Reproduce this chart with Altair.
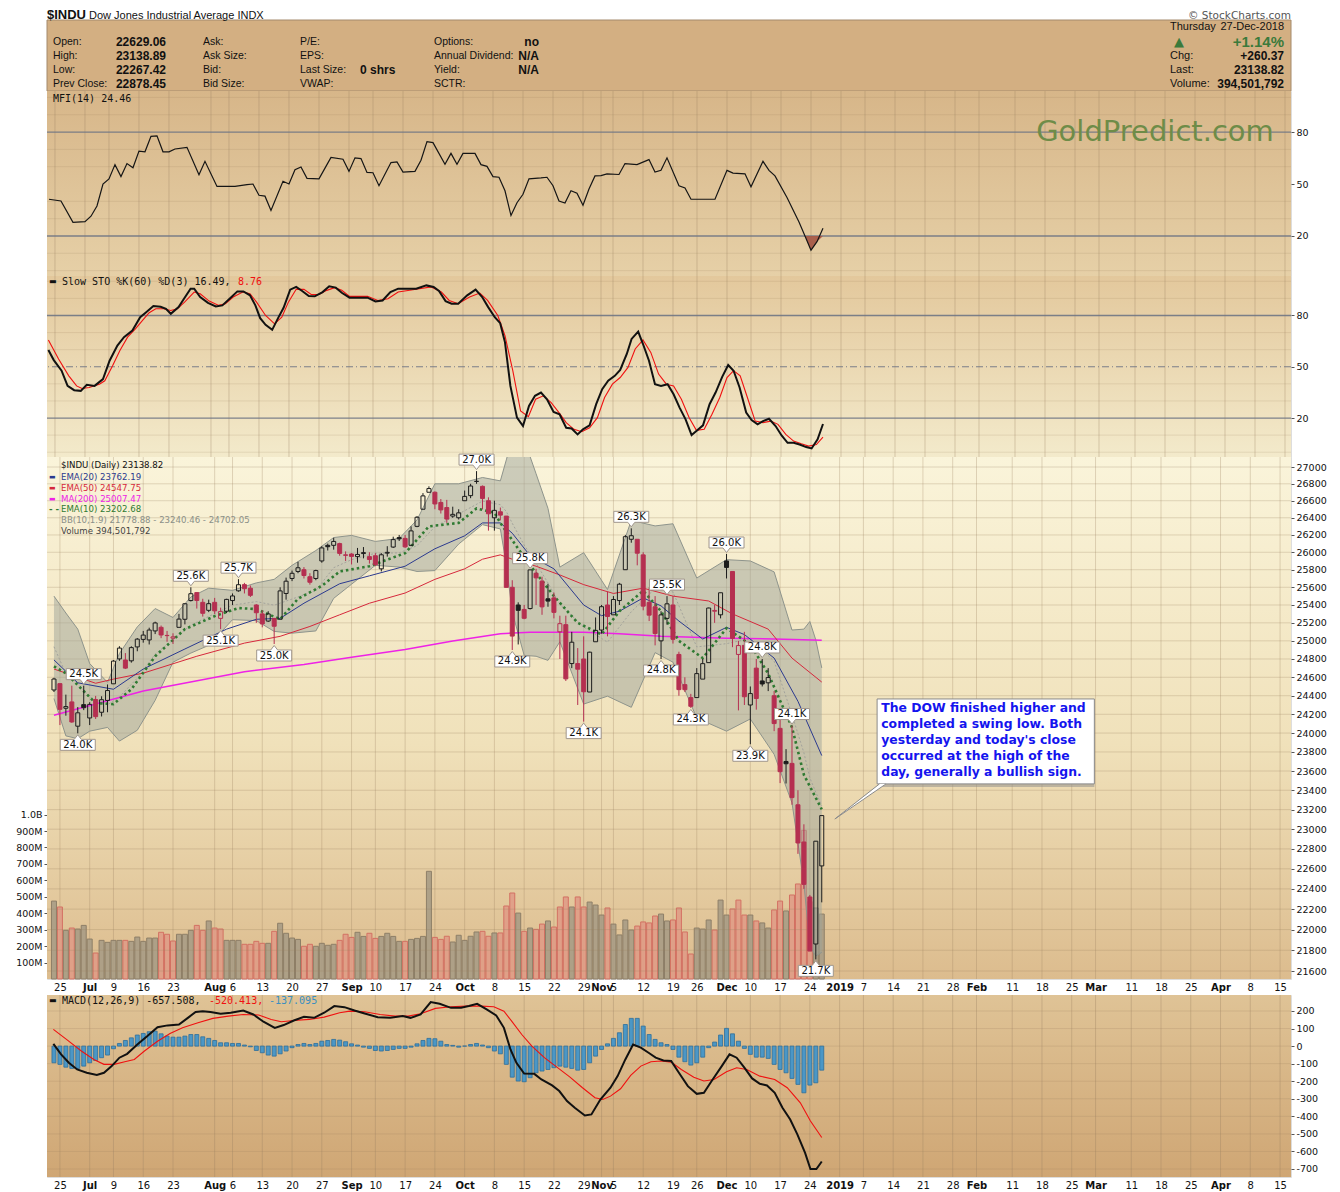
import altair as alt
import pandas as pd

# ------------------------------------------------------------------ data
# trading-day index 0 = 22-Jun-2018 ... 129 = 27-Dec-2018 (future weekdays continue the index)
OPEN = [24462, 24531, 24265, 24333, 24073, 24304, 24161, 24359, 24222, 24349,
        24529, 24801, 24789, 24780, 24933, 25016, 25010, 25110, 25150, 25060,
        25030, 25150, 25240, 25450, 25540, 25430, 25340, 25430, 25250, 25330,
        25450, 25560, 25630, 25590, 25400, 25300, 25220, 25250, 25240, 25530,
        25700, 25780, 25800, 25720, 25700, 25900, 26080, 26080, 26100, 25970,
        25980, 25950, 25985, 25950, 25960, 25810, 25990, 26060, 26170, 26160,
        26080, 26300, 26500, 26700, 26700, 26580, 26520, 26420, 26400, 26600,
        26660, 26830, 26770, 26600, 26400, 26470, 26420, 25600, 25400, 25350,
        25360, 25760, 25670, 25470, 25480, 25100, 25180, 24750, 24750, 24800,
        24440, 24990, 25120, 25400, 25290, 25450, 25800, 26150, 26150, 25970,
        25430, 25380, 25000, 25250, 25400, 24850, 24520, 24380, 24380, 24580,
        24760, 25330, 25290, 25900, 25780, 24850, 24950, 24300, 24700, 24560,
        24540, 24400, 24050, 23700, 23680, 23250, 22870, 22320, 21860, 22629]
HIGH = [24595, 24531, 24412, 24509, 24278, 24509, 24330, 24398, 24394, 24522,
        24788, 24941, 24865, 24940, 25031, 25110, 25146, 25213, 25170, 25110,
        25084, 25300, 25420, 25600, 25546, 25470, 25460, 25480, 25370, 25470,
        25530, 25692, 25650, 25620, 25410, 25340, 25330, 25250, 25600, 25710,
        25790, 25890, 25830, 25760, 25800, 26070, 26100, 26167, 26110, 26010,
        25990, 26050, 26060, 26000, 25990, 25990, 26070, 26180, 26200, 26200,
        26300, 26420, 26690, 26770, 26710, 26620, 26610, 26530, 26500, 26720,
        26800, 26951, 26780, 26640, 26600, 26520, 26420, 25680, 25430, 25400,
        25800, 25810, 25720, 25640, 25540, 25280, 25280, 25100, 24920, 25050,
        24880, 25260, 25400, 25550, 25500, 25650, 26200, 26277, 26150, 26000,
        25600, 25500, 25330, 25500, 25500, 24880, 24600, 24420, 24700, 24800,
        25370, 25400, 25540, 25980, 25780, 25000, 25100, 24500, 24800, 24800,
        24700, 24450, 24240, 23830, 24080, 23400, 23050, 22340, 22880, 23139]
LOW = [24440, 24085, 24185, 24109, 23997, 24245, 24085, 24150, 24177, 24222,
       24529, 24780, 24690, 24760, 24885, 24980, 24960, 25075, 25030, 24990,
       24965, 25150, 25183, 25440, 25360, 25270, 25320, 25300, 25130, 25310,
       25400, 25550, 25530, 25490, 25200, 25150, 25210, 24965, 25240, 25460,
       25670, 25760, 25700, 25630, 25680, 25880, 26020, 26030, 25960, 25900,
       25860, 25880, 25930, 25870, 25840, 25780, 25950, 26050, 26130, 26050,
       26070, 26290, 26500, 26700, 26500, 26450, 26340, 26400, 26380, 26600,
       26630, 26800, 26500, 26250, 26250, 26370, 25598, 24899, 24960, 25240,
       25350, 25400, 25290, 25380, 25250, 24800, 24560, 24700, 24300, 24122,
       24440, 24990, 25080, 25050, 25290, 25400, 25800, 26110, 25850, 25340,
       25220, 24950, 24800, 25180, 24970, 24400, 24440, 24268, 24380, 24580,
       24760, 25200, 25250, 25700, 24930, 24242, 24300, 23881, 24250, 24500,
       24450, 24020, 23474, 23470, 23250, 22750, 22400, 21792, 21712, 22267]
CLOSE = [24581, 24253, 24283, 24118, 24216, 24271, 24307, 24175, 24357, 24456,
         24777, 24920, 24700, 24925, 25019, 25064, 25120, 25199, 25065, 25058,
         25044, 25242, 25414, 25527, 25451, 25307, 25415, 25334, 25326, 25463,
         25502, 25629, 25584, 25509, 25313, 25188, 25300, 25162, 25559, 25669,
         25759, 25822, 25734, 25657, 25790, 26050, 26064, 26125, 25987, 25965,
         25952, 25975, 25996, 25917, 25857, 25971, 25999, 26146, 26155, 26062,
         26247, 26406, 26657, 26744, 26562, 26492, 26385, 26440, 26458, 26651,
         26774, 26828, 26627, 26447, 26487, 26431, 25599, 25053, 25340, 25251,
         25798, 25707, 25379, 25444, 25317, 25191, 24583, 24985, 24688, 24443,
         24875, 25116, 25381, 25271, 25462, 25635, 26180, 26191, 25989, 25387,
         25286, 25081, 25289, 25413, 25017, 24466, 24465, 24286, 24640, 24749,
         25366, 25339, 25538, 25826, 25027, 24948, 24389, 24423, 24370, 24527,
         24597, 24101, 23593, 23676, 23324, 22860, 22445, 21792, 22878, 23139]
VOLUME_M = [474, 438, 296, 310, 304, 326, 243, 158, 235, 223,
            235, 235, 235, 229, 255, 229, 249, 249, 284, 272,
            231, 272, 272, 296, 326, 296, 353, 310, 304, 235,
            235, 235, 211, 211, 229, 217, 217, 290, 339, 278,
            249, 241, 199, 211, 199, 217, 205, 211, 235, 272,
            253, 284, 259, 278, 247, 259, 278, 259, 229, 229,
            241, 247, 259, 655, 253, 241, 260, 225, 266, 235,
            260, 286, 290, 260, 280, 280, 444, 523, 401, 290,
            310, 302, 334, 353, 316, 438, 499, 438, 499, 438,
            468, 450, 389, 432, 334, 268, 359, 298, 322, 347,
            341, 383, 395, 353, 359, 432, 286, 152, 310, 304,
            359, 298, 480, 389, 426, 480, 389, 389, 353, 341,
            310, 420, 474, 414, 511, 578, 904, 470, 432, 395]

EMA20_I = [0, 4, 10, 15, 22, 29, 34, 38, 42, 48, 53, 59, 64, 69, 72, 75, 77, 80, 84, 89,
           92, 95, 99, 102, 105, 109, 113, 116, 121, 125, 129]
EMA20_V = [24790, 24540, 24470, 24690, 24910, 25130, 25240, 25250, 25420, 25640, 25730, 25840,
           26040, 26190, 26340, 26340, 26220, 25960, 25810, 25400, 25280, 25330, 25480, 25390,
           25220, 25020, 25150, 25070, 24810, 24340, 23762]
EMA50_I = [0, 7, 10, 15, 24, 32, 38, 43, 48, 53, 59, 64, 69, 72, 75, 77, 81, 85, 89, 94,
           99, 104, 110, 114, 120, 124, 129]
EMA50_V = [24690, 24535, 24580, 24645, 24830, 24975, 25050, 25160, 25290, 25420, 25535, 25690,
           25810, 25920, 25970, 25920, 25840, 25740, 25630, 25530, 25590, 25500, 25445, 25300,
           25130, 24810, 24548]
MA200_I = [0, 15, 32, 42, 50, 59, 67, 75, 80, 89, 95, 102, 113, 121, 129]
MA200_V = [24190, 24450, 24660, 24740, 24820, 24905, 24998, 25080, 25095, 25095, 25080, 25050,
           25030, 25020, 25007]
EMA10_I = [0, 2, 7, 10, 13, 17, 22, 27, 31, 34, 38, 41, 45, 48, 53, 59, 63, 68, 71, 74, 75,
           78, 81, 84, 88, 92, 95, 99, 102, 105, 109, 113, 117, 120, 124, 126, 129]
EMA10_V = [24720, 24645, 24320, 24310, 24470, 24830, 25130, 25275, 25365, 25355, 25240, 25470,
           25615, 25780, 25840, 25990, 26300, 26340, 26510, 26460, 26340, 26040, 25760, 25500,
           25200, 25070, 25330, 25560, 25330, 25000, 24810, 25140, 24960, 24640, 24060, 23560,
           23203]
BB_I = [0, 2, 4, 6, 9, 11, 14, 17, 20, 23, 26, 30, 34, 37, 40, 44, 47, 50, 54, 58, 61, 64, 68,
        72, 75, 76, 77, 79, 81, 83, 85, 89, 93, 97, 101, 104, 108, 113, 117, 121, 124, 126, 127,
        128, 129]
BB_LO = [24370, 23970, 23940, 24020, 24060, 23915, 24030, 24350, 24765, 24865, 24950, 25235,
         25225, 25105, 25085, 25110, 25475, 25635, 25850, 25830, 25780, 25790, 26095, 26320,
         26270, 25860, 25320, 24840, 24830, 24785, 24990, 24310, 24395, 24275, 24870, 24765,
         24160, 24020, 24150, 23775, 23270, 22455, 21840, 21745, 21779]
BB_MID = [24935, 24640, 24535, 24385, 24302, 24388, 24591, 24854, 25011, 25175, 25272, 25398,
          25438, 25398, 25467, 25564, 25823, 25915, 25989, 25993, 26076, 26295, 26445, 26596,
          26553, 26474, 26336, 26084, 25874, 25649, 25408, 25154, 24985, 25324, 25586, 25547,
          24933, 24969, 25025, 24775, 24195, 23792, 23529, 23379, 23240]
BB_HI = [25500, 25310, 25130, 24750, 24545, 24860, 25155, 25360, 25260, 25490, 25590, 25565,
         25650, 25690, 25850, 26020, 26170, 26195, 26125, 26160, 26375, 26800, 26800, 26875,
         26835, 27085, 27350, 27330, 26920, 26510, 25830, 25995, 25575, 26370, 26305, 26330,
         25705, 25915, 25900, 25775, 25120, 25130, 25215, 25010, 24702]

MFI_I = [0, 2, 4, 6, 7, 8, 9, 10, 11, 12, 13, 14, 15, 16, 17, 18, 19, 20, 21, 23, 25, 26, 28,
         31, 33, 34, 35, 36, 37, 39, 40, 41, 42, 43, 45, 46, 47, 49, 50, 51, 52, 53, 54, 55, 57,
         58, 59, 61, 62, 63, 64, 66, 67, 68, 69, 71, 72, 73, 74, 75, 76, 77, 78, 79, 80, 82, 83,
         84, 85, 86, 87, 88, 89, 90, 91, 92, 93, 95, 96, 98, 100, 101, 102, 103, 105, 106, 107,
         111, 113, 114, 116, 117, 119, 120, 121, 123, 125, 126, 127, 128, 129]
MFI_V = [41.2, 40.2, 27.9, 28.3, 31.4, 37.3, 50.0, 52.9, 61.2, 54.3, 61.8, 59.4, 69.0, 68.6,
         77.5, 77.8, 68.6, 68.6, 70.2, 71.2, 55.3, 63.1, 48.6, 48.6, 49.6, 50.0, 43.5, 43.0,
         34.7, 51.6, 50.0, 58.2, 59.8, 53.3, 53.0, 59.2, 65.3, 64.3, 57.3, 65.1, 64.7, 56.7,
         56.5, 49.0, 62.4, 62.8, 56.9, 57.3, 63.7, 74.5, 73.9, 61.4, 67.7, 61.4, 67.7, 67.7,
         61.2, 60.2, 54.3, 53.9, 46.1, 31.8, 39.2, 44.1, 53.0, 53.5, 53.9, 49.0, 40.2, 39.0,
         46.1, 44.7, 37.7, 47.1, 54.7, 54.9, 55.9, 55.5, 61.8, 61.2, 64.1, 56.9, 57.9, 65.1,
         49.0, 47.7, 41.2, 41.2, 57.9, 56.3, 55.9, 48.4, 63.1, 57.9, 54.7, 42.2, 28.1, 20.0,
         11.8, 16.7, 24.46]

STO_K_I = [-0.1, 0.8, 2.1, 3.1, 4.2, 5.3, 6.3, 7.6, 9.0, 10.1, 11.4, 12.5, 13.9, 15.2, 16.1,
           17.4, 18.6, 19.5, 20.3, 21.6, 22.5, 23.6, 24.2, 25.2, 26.5, 27.8, 28.9, 30.1, 31.4,
           32.4, 33.5, 34.4, 35.2, 36.1, 37.2, 38.2, 39.1, 40.2, 41.2, 42.2, 43.3, 44.3, 45.6,
           46.7, 47.8, 48.8, 50.1, 53.1, 54.4, 55.6, 56.9, 58.2, 61.2, 62.9, 64.1, 65.0, 66.1,
           67.1, 68.2, 69.7, 71.1, 72.2, 73.2, 74.3, 75.2, 76.0, 76.9, 78.0, 79.0, 80.0, 81.0,
           82.0, 83.0, 84.1, 85.1, 86.2, 87.1, 88.1, 89.0, 90.1, 91.2, 92.2, 93.2, 94.3, 95.2,
           96.3, 97.1, 98.2, 99.0, 100.0, 101.0, 102.0, 103.1, 104.1, 105.1, 106.1, 107.1, 107.9,
           109.0, 110.1, 111.1, 112.2, 113.2, 114.1, 115.1, 116.2, 117.1, 118.1, 119.0, 120.0,
           121.1, 122.1, 123.1, 124.1, 125.1, 126.2, 127.1, 128.1, 129.0]
STO_K_V = [59.8, 53.9, 47.7, 38.8, 36.3, 35.9, 39.4, 38.8, 42.8, 53.5, 62.4, 67.3, 71.2, 79.0,
           81.6, 85.5, 85.1, 83.9, 81.0, 84.9, 89.8, 95.7, 95.7, 90.8, 87.4, 85.3, 85.9, 89.8,
           94.1, 94.1, 91.8, 85.9, 78.4, 74.5, 71.6, 78.6, 84.5, 95.1, 96.7, 94.3, 91.4, 91.2,
           93.7, 97.1, 96.3, 93.3, 90.4, 90.4, 88.2, 88.8, 93.7, 95.7, 95.7, 97.6, 96.7, 94.3,
           88.4, 86.9, 86.9, 91.8, 95.1, 90.8, 84.9, 79.0, 75.5, 64.3, 38.8, 20.2, 15.3, 27.1,
           33.0, 34.9, 31.0, 23.6, 22.2, 14.3, 13.9, 10.4, 13.4, 15.7, 28.1, 36.9, 41.8, 44.7,
           48.2, 57.5, 66.3, 70.6, 63.3, 53.5, 39.8, 38.8, 39.8, 33.9, 26.1, 19.2, 10.0, 12.4,
           15.7, 28.1, 34.9, 44.1, 51.0, 47.7, 37.9, 23.2, 18.8, 16.3, 18.2, 19.6, 15.3, 9.8,
           5.5, 5.5, 4.5, 3.0, 2.2, 7.5, 16.49]
STO_D_I = [-0.1, 1.6, 3.3, 4.6, 5.5, 6.7, 8.4, 9.3, 10.6, 11.8, 13.1, 14.4, 15.7, 16.7, 17.8,
           19.1, 20.3, 21.4, 22.6, 24.2, 25.2, 26.7, 28.3, 29.4, 30.7, 32.3, 33.5, 34.6, 36.1,
           37.6, 38.8, 39.9, 41.2, 42.5, 43.7, 45.0, 46.3, 47.6, 48.8, 50.1, 53.1, 54.8, 56.5,
           58.2, 61.2, 63.7, 65.4, 66.7, 68.2, 70.1, 71.8, 73.1, 74.8, 76.0, 77.3, 78.6, 79.9,
           81.1, 82.4, 83.7, 85.0, 86.2, 87.5, 88.8, 90.1, 91.4, 92.6, 93.9, 95.2, 96.5, 97.7,
           99.0, 100.3, 101.6, 102.9, 104.1, 105.4, 106.7, 107.9, 109.2, 110.5, 111.8, 113.0,
           114.1, 115.2, 116.4, 117.7, 119.0, 120.3, 121.5, 122.8, 124.1, 125.4, 126.6, 127.9,
           129.0]
STO_D_V = [65.7, 54.5, 44.7, 38.8, 37.3, 37.9, 39.8, 41.8, 50.6, 59.4, 67.3, 72.2, 77.6, 81.6,
           83.9, 83.9, 82.9, 83.9, 87.8, 93.7, 92.7, 88.4, 85.9, 86.9, 90.8, 93.7, 92.7, 87.8,
           80.0, 75.1, 79.0, 87.8, 95.3, 95.3, 92.3, 92.3, 94.7, 96.3, 94.7, 91.2, 91.2, 88.8,
           89.8, 93.7, 95.3, 96.7, 93.7, 88.8, 86.9, 90.8, 93.1, 88.8, 80.0, 68.2, 47.7, 24.1,
           20.8, 31.0, 33.0, 29.0, 23.2, 17.3, 13.4, 12.0, 14.3, 20.2, 32.0, 39.8, 43.7, 49.6,
           60.4, 65.7, 58.4, 45.7, 39.8, 38.8, 31.0, 20.2, 12.8, 13.4, 22.2, 32.0, 43.7, 47.7,
           44.7, 32.0, 18.2, 17.3, 18.2, 16.3, 10.4, 6.5, 4.9, 3.6, 4.5, 8.76]

MACD_I = [-0.1, 1.2, 2.5, 3.9, 5.5, 7.2, 8.4, 9.7, 11.0, 12.3, 14.0, 15.7, 17.4, 19.1, 21.0,
          22.5, 23.8, 25.0, 26.3, 28.0, 29.7, 31.8, 33.5, 35.2, 37.1, 38.6, 40.3, 42.0, 43.7,
          45.4, 47.1, 48.8, 50.5, 52.2, 54.4, 56.5, 58.6, 59.9, 61.6, 63.3, 64.8, 66.7, 68.4,
          69.7, 71.1, 72.7, 74.3, 75.6, 76.7, 77.7, 79.0, 80.7, 81.9, 83.7, 84.9, 86.2, 87.5,
          89.2, 90.3, 91.8, 93.5, 94.7, 96.0, 97.3, 98.6, 99.9, 101.1, 102.4, 103.7, 105.0,
          106.5, 108.0, 109.2, 110.5, 112.2, 113.5, 114.7, 116.0, 117.3, 118.6, 119.8, 121.1,
          122.4, 123.7, 124.9, 126.2, 127.1, 128.1, 129.0]
MACD_V = [13, -47, -95, -133, -152, -165, -152, -114, -66, -44, 9, 57, 108, 118, 123, 161, 194,
          199, 194, 184, 190, 203, 180, 139, 104, 120, 146, 167, 161, 190, 228, 222, 203, 186,
          165, 161, 171, 161, 180, 251, 241, 218, 218, 228, 241, 209, 175, 104, -19, -95, -156,
          -158, -190, -224, -256, -313, -351, -395, -389, -304, -237, -171, -76, 9, -9, -38, -66,
          -82, -85, -152, -228, -272, -266, -199, -114, -47, -66, -123, -184, -215, -224, -266,
          -351, -418, -503, -608, -700, -700, -657.5]
SIG_I = [-0.1, 2.1, 4.6, 6.7, 8.4, 10.1, 11.9, 13.5, 15.2, 17.4, 19.5, 21.6, 24.2, 26.7, 29.3,
         31.8, 34.4, 36.5, 38.2, 40.3, 42.9, 45.4, 48.0, 49.7, 52.2, 54.8, 57.3, 59.5, 61.6,
         64.1, 66.7, 69.2, 71.8, 73.9, 75.6, 76.9, 78.6, 80.3, 82.4, 84.5, 86.7, 88.8, 90.9,
         92.2, 93.5, 95.2, 96.9, 98.6, 100.3, 102.0, 103.7, 105.4, 107.5, 109.2, 110.9, 113.0,
         114.7, 116.4, 118.6, 121.1, 123.2, 125.4, 127.1, 129.0]
SIG_V = [95, 38, -28, -76, -104, -104, -89, -76, -28, 28, 72, 104, 133, 158, 171, 180, 177, 152,
         139, 146, 152, 165, 190, 199, 196, 180, 171, 171, 184, 215, 224, 228, 228, 224, 199, 142,
         66, 0, -66, -120, -177, -237, -294, -304, -285, -243, -167, -114, -89, -85, -91, -133,
         -177, -199, -190, -146, -123, -133, -171, -190, -237, -323, -427, -520.4]
HIST = [-95, -104, -120, -127, -127, -114, -95, -82, -66, -51,
        -15, 15, 32, 47, 63, 72, 82, 85, 70, 57,
        51, 51, 57, 66, 66, 53, 44, 32, 19, 19,
        15, 15, 6, -4, -25, -38, -51, -57, -44, -28,
        -9, 9, 15, 9, 15, 28, 32, 38, 34, 25,
        13, 6, -6, -13, -25, -28, -25, -19, -13, -13,
        -6, 13, 32, 44, 42, 28, 9, 4, -6, 0,
        9, 15, 6, -9, -28, -44, -104, -177, -199, -203,
        -180, -152, -142, -133, -123, -114, -120, -127, -137, -133,
        -95, -57, -19, 13, 44, 76, 123, 158, 158, 114,
        66, 38, 19, 9, -19, -63, -89, -108, -95, -63,
        -9, 23, 63, 101, 70, 28, -13, -47, -63, -63,
        -70, -104, -133, -152, -184, -218, -266, -222, -209, -137]

LBL_I = [4, 5, 23, 28, 31, 37, 71, 77, 80, 89, 97, 102, 103, 107, 113, 117, 119, 124, 128]
LBL_T = ["24.0K", "24.5K", "25.6K", "25.1K", "25.7K", "25.0K", "27.0K", "24.9K", "25.8K", "24.1K",
         "26.3K", "24.8K", "25.5K", "24.3K", "26.0K", "23.9K", "24.8K", "24.1K", "21.7K"]
LBL_ABOVE = [False, True, True, False, True, False, True, False, True, False,
             True, False, True, False, True, False, True, True, False]

TICK_IDX = [1, 6, 10, 15, 20, 27, 30, 35, 40, 45, 50, 54, 59, 64, 69, 74, 79, 84, 89, 92, 94,
            99, 104, 108, 113, 117, 122, 127, 132, 136, 141, 146, 151, 155, 161, 166, 171, 175,
            181, 186, 191, 196, 201, 206]
TICK_LBL = ["25", "Jul", "9", "16", "23", "Aug", "6", "13", "20", "27", "Sep", "10", "17", "24",
            "Oct", "8", "15", "22", "29", "Nov", "5", "12", "19", "26", "Dec", "10", "17", "24",
            "2019", "7", "14", "21", "28", "Feb", "11", "18", "25", "Mar", "11", "18", "25", "Apr",
            "8", "15"]
BOLD_IDX = [6, 27, 50, 69, 92, 113, 132, 155, 175, 196]

NOTE_LINES = ["The DOW finished higher and", "completed a swing low. Both",
              "yesterday and today's close", "occurred at the high of the",
              "day, generally a bullish sign."]

for a, b in [(OPEN, CLOSE), (HIGH, CLOSE), (LOW, CLOSE), (VOLUME_M, CLOSE), (HIST, CLOSE),
             (EMA20_I, EMA20_V), (EMA50_I, EMA50_V), (MA200_I, MA200_V), (EMA10_I, EMA10_V),
             (BB_I, BB_LO), (BB_I, BB_MID), (BB_I, BB_HI), (MFI_I, MFI_V), (STO_K_I, STO_K_V),
             (STO_D_I, STO_D_V), (MACD_I, MACD_V), (SIG_I, SIG_V), (LBL_I, LBL_T),
             (LBL_I, LBL_ABOVE), (TICK_IDX, TICK_LBL)]:
    assert len(a) == len(b), (len(a), len(b))

# ------------------------------------------------------------------ frames
n = len(CLOSE)
df = pd.DataFrame({"i": list(range(n)), "open": OPEN, "high": HIGH, "low": LOW,
                   "close": CLOSE, "vol": VOLUME_M})
prev = df["close"].shift(1).fillna(df["open"])
up = df["close"] >= prev
df["col"] = up.map({True: "#1C1C1C", False: "#B52F50"})
df["vfill"] = up.map({True: "#A99D86", False: "#E09D87"})
df["vstroke"] = up.map({True: "#857863", False: "#D2695E"})
df["btop"] = df[["open", "close"]].max(axis=1)
df["bbot"] = df[["open", "close"]].min(axis=1)
hollow = df[df["close"] > df["open"]]
filled = df[df["close"] <= df["open"]]

lab = pd.DataFrame({"i": LBL_I, "t": LBL_T, "above": LBL_ABOVE})
lab["p"] = [HIGH[i] if a else LOW[i] for i, a in zip(LBL_I, LBL_ABOVE)]
lab_up = lab[lab["above"]]
lab_dn = lab[~lab["above"]]

# ------------------------------------------------------------------ helpers
FONT = "DejaVu Sans"
MONO = "DejaVu Sans Mono"
HFONT = "Liberation Sans"
W = 1244
H_HEAD, H_MFI, H_STO, H_PRICE, H_GAP, H_MACD = 82, 185, 181, 522, 16, 182
XS = alt.Scale(domain=[-0.33, 207.0], nice=False, zero=False)
ONE = alt.Data(values=[{"k": 1}])
GRIDC = "#9C8160"

lbl_expr = ("[" + ",".join("'%s'" % t for t in TICK_LBL) + "][indexof(["
            + ",".join(str(v) for v in TICK_IDX) + "], datum.value)]")
bold_test = "indexof([" + ",".join(str(v) for v in BOLD_IDX) + "], datum.value) >= 0"

X_AXIS = alt.Axis(values=TICK_IDX, labelExpr=lbl_expr,
                  labelFontWeight={"condition": {"test": bold_test, "value": "bold"},
                                   "value": "normal"},
                  title=None, grid=False, ticks=False, domain=False, labelFont=FONT,
                  labelFontSize=10, labelColor="#111", labelPadding=3, labelOverlap=False,
                  labelFlush=False, labelBound=False)


def y_axis(values, expr="'' + datum.value", orient="right"):
    return alt.Axis(orient=orient, values=values, title=None, grid=False, domain=False,
                    tickSize=3, tickColor="#555", labelFont=FONT, labelFontSize=9.5,
                    labelColor="#111", labelPadding=2, labelOverlap=False, labelExpr=expr)


def make_x(axis):
    def fx(f="i:Q"):
        return alt.X(f, scale=XS, axis=axis)
    return fx


def make_y(scale, axis):
    def fy(f):
        return alt.Y(f, scale=scale, axis=axis)
    return fy


def gradient_bg(h, stops):
    grad = alt.LinearGradient(gradient="linear", x1=0, x2=0, y1=0, y2=1,
                              stops=[alt.GradientStop(color=c, offset=o) for o, c in stops])
    return alt.Chart(ONE).mark_rect(color=grad, strokeWidth=0).encode(
        x=alt.value(0), x2=alt.value(W), y=alt.value(0), y2=alt.value(h))


def vgrid(X, opacity=0.35):
    return alt.Chart(pd.DataFrame({"i": TICK_IDX})).mark_rule(
        color=GRIDC, opacity=opacity, strokeWidth=1).encode(x=X())


def hgrid(values, Y, color, opacity, width=1.0, dash=None):
    kw = dict(color=color, opacity=opacity, strokeWidth=width)
    if dash is not None:
        kw["strokeDash"] = dash
    return alt.Chart(pd.DataFrame({"v": values})).mark_rule(**kw).encode(y=Y("v:Q"))


def label(x, y, s, size=10, color="#222", weight="normal", align="left", font=FONT,
          baseline="middle"):
    return alt.Chart(ONE).mark_text(text=s, fontSize=size, color=color, fontWeight=weight,
                                    align=align, font=font, baseline=baseline).encode(
        x=alt.value(x), y=alt.value(y))


def series(i, v):
    return pd.DataFrame({"i": i, "v": v})


XN = make_x(None)      # panels without a date axis
XA = make_x(X_AXIS)    # panels with the date axis

# ------------------------------------------------------------------ header
GREEN = "#3B7A3B"
head_layers = [
    alt.Chart(ONE).mark_rect(fill="white", strokeWidth=0).encode(
        x=alt.value(-38), x2=alt.value(-37), y=alt.value(40), y2=alt.value(41)),
    alt.Chart(ONE).mark_rect(fill="#D3AF82", stroke="#A48A6C", strokeWidth=1).encode(
        x=alt.value(0), x2=alt.value(W), y=alt.value(11), y2=alt.value(H_HEAD)),
    label(0, 10, "$INDU", size=13, weight="bold", font=HFONT, baseline="alphabetic", color="#111"),
    label(42, 10, "Dow Jones Industrial Average  INDX", size=11, font=HFONT,
          baseline="alphabetic", color="#111"),
    label(W, 10, "\u00a9 StockCharts.com", size=10.5, font=FONT, align="right",
          baseline="alphabetic", color="#555"),
]
rows = [33, 47, 61, 75]
for y, t in zip(rows, ["Open:", "High:", "Low:", "Prev Close:"]):
    head_layers.append(label(6, y, t, size=10.5, font=HFONT, color="#111"))
for y, t in zip(rows, ["22629.06", "23138.89", "22267.42", "22878.45"]):
    head_layers.append(label(119, y, t, size=12, font=HFONT, weight="bold", align="right",
                             color="#111"))
for y, t in zip(rows, ["Ask:", "Ask Size:", "Bid:", "Bid Size:"]):
    head_layers.append(label(156, y, t, size=10.5, font=HFONT, color="#111"))
for y, t in zip(rows, ["P/E:", "EPS:", "Last Size:", "VWAP:"]):
    head_layers.append(label(253, y, t, size=10.5, font=HFONT, color="#111"))
head_layers.append(label(313, 61, "0 shrs", size=12, font=HFONT, weight="bold", color="#111"))
for y, t in zip(rows, ["Options:", "Annual Dividend:", "Yield:", "SCTR:"]):
    head_layers.append(label(387, y, t, size=10.5, font=HFONT, color="#111"))
for y, t in zip(rows[:3], ["no", "N/A", "N/A"]):
    head_layers.append(label(492, y, t, size=12, font=HFONT, weight="bold", align="right",
                             color="#111"))
head_layers += [
    label(1123, 18, "Thursday", size=11, font=HFONT, color="#111"),
    label(1237, 18, "27-Dec-2018", size=11, font=HFONT, align="right", color="#111"),
    label(1132, 33, "\u25b2", size=13, font=FONT, align="center", color=GREEN),
    label(1237, 33, "+1.14%", size=15, font=HFONT, weight="bold", align="right", color=GREEN),
    label(1123, 47, "Chg:", size=11, font=HFONT, color="#111"),
    label(1237, 47, "+260.37", size=12, font=HFONT, weight="bold", align="right", color="#111"),
    label(1123, 61, "Last:", size=11, font=HFONT, color="#111"),
    label(1237, 61, "23138.82", size=12, font=HFONT, weight="bold", align="right", color="#111"),
    label(1123, 75, "Volume:", size=11, font=HFONT, color="#111"),
    label(1237, 75, "394,501,792", size=12, font=HFONT, weight="bold", align="right",
          color="#111"),
]
head = alt.layer(*head_layers).properties(width=W, height=H_HEAD,
                                          view=alt.ViewBackground(stroke="transparent"))

# ------------------------------------------------------------------ MFI
YM = make_y(alt.Scale(domain=[-3.1, 103.7], nice=False, zero=False), y_axis([20, 50, 80]))
mfi_df = series(MFI_I, MFI_V)
mfi = alt.layer(
    gradient_bg(H_MFI, [(0, "#D7B689"), (1, "#E6D0A7")]),
    vgrid(XN),
    hgrid([0, 10, 30, 40, 60, 70, 90, 100], YM, GRIDC, 0.18),
    hgrid([20, 80], YM, "#6F7584", 0.9, 1.3),
    alt.Chart(mfi_df).transform_calculate(lo="min(datum.v, 20)").mark_area(
        color="#A65A48", opacity=0.95).encode(x=XN(), y=YM("lo:Q"), y2=alt.datum(20)),
    alt.Chart(mfi_df).mark_line(color="#151515", strokeWidth=1.2).encode(x=XN(), y=YM("v:Q")),
    label(6, 8, "MFI(14) 24.46", font=MONO, size=10, color="#111"),
    label(1108, 41, "GoldPredict.com", size=29, color="#6E8C48", align="center"),
).properties(width=W, height=H_MFI)

# ------------------------------------------------------------------ Slow STO
YS = make_y(alt.Scale(domain=[-2.8, 103.1], nice=False, zero=False), y_axis([20, 50, 80]))
sto = alt.layer(
    gradient_bg(H_STO, [(0, "#E3C89C"), (1, "#F3EACB")]),
    vgrid(XN),
    hgrid([0, 10, 30, 40, 60, 70, 90, 100], YS, GRIDC, 0.18),
    hgrid([20, 80], YS, "#6F7584", 0.9, 1.3),
    hgrid([50], YS, "#6F7584", 0.9, 1.2, [7, 3, 1, 3]),
    alt.Chart(series(STO_D_I, STO_D_V)).mark_line(color="#F01010", strokeWidth=1.1).encode(
        x=XN(), y=YS("v:Q")),
    alt.Chart(series(STO_K_I, STO_K_V)).mark_line(color="#111", strokeWidth=2).encode(
        x=XN(), y=YS("v:Q")),
    label(2, 6, "\u25ac", size=8, color="#111"),
    label(15, 6, "Slow STO %K(60) %D(3) 16.49,", font=MONO, size=10, color="#111"),
    label(191, 6, "8.76", font=MONO, size=10, color="#F01010"),
).properties(width=W, height=H_STO)

# ------------------------------------------------------------------ price
PRICE_TICKS = list(range(21600, 27001, 200))
PY = make_y(alt.Scale(type="log", domain=[21524, 27120], nice=False, zero=False),
            y_axis(PRICE_TICKS))
VY = make_y(alt.Scale(domain=[0, 3175], nice=False, zero=True),
            y_axis(list(range(100, 1001, 100)),
                   expr="datum.value >= 1000 ? '1.0B' : datum.value + 'M'", orient="left"))

bb_df = pd.DataFrame({"i": BB_I, "lo": BB_LO, "mid": BB_MID, "hi": BB_HI})

vol = alt.Chart(df).mark_bar(size=5, strokeWidth=1, opacity=0.9).encode(
    x=XA(), y=VY("vol:Q"),
    fill=alt.Fill("vfill:N", scale=None), stroke=alt.Stroke("vstroke:N", scale=None))

ABOVE_PATH = "M-1.75,-1.7L1.75,-1.7L1.75,-0.6L0.35,-0.6L0,-0.15L-0.35,-0.6L-1.75,-0.6Z"
BELOW_PATH = "M-1.75,1.7L1.75,1.7L1.75,0.6L0.35,0.6L0,0.15L-0.35,0.6L-1.75,0.6Z"

NOTE_X0, NOTE_X1, NOTE_P0, NOTE_P1 = 138.3, 174.8, 23466, 24365
note_box = pd.DataFrame({"x0": [NOTE_X0], "x1": [NOTE_X1], "p0": [NOTE_P0], "p1": [NOTE_P1]})
ptr_df = pd.DataFrame({"i": [131.2, 138.7, 139.8], "top": [23104, 23466, 23466],
                       "bot": [23104, 23418, 23466]})
edge_df = pd.DataFrame({"i": [131.2, 138.7, 131.2, 139.8], "p": [23104, 23466, 23104, 23466],
                        "s": ["a", "a", "b", "b"]})
note_pos = pd.DataFrame({"i": [139.0], "p": [24335]})

price_layers = [
    hgrid(PRICE_TICKS, PY, GRIDC, 0.28),
    alt.Chart(bb_df).mark_area(color="#9DA39A", opacity=0.5, clip=True).encode(
        x=XA(), y=PY("lo:Q"), y2="hi:Q"),
    alt.Chart(bb_df).mark_line(color="#8E948C", strokeWidth=1, clip=True).encode(
        x=XA(), y=PY("hi:Q")),
    alt.Chart(bb_df).mark_line(color="#8E948C", strokeWidth=1, clip=True).encode(
        x=XA(), y=PY("lo:Q")),
    alt.Chart(bb_df).mark_line(color="#A3A39C", strokeWidth=1, strokeDash=[2, 2]).encode(
        x=XA(), y=PY("mid:Q")),
    alt.Chart(series(MA200_I, MA200_V)).mark_line(color="#EE22E6", strokeWidth=1.5).encode(
        x=XA(), y=PY("v:Q")),
    alt.Chart(series(EMA50_I, EMA50_V)).mark_line(color="#D6283C", strokeWidth=1).encode(
        x=XA(), y=PY("v:Q")),
    alt.Chart(series(EMA20_I, EMA20_V)).mark_line(color="#2B3A8F", strokeWidth=1).encode(
        x=XA(), y=PY("v:Q")),
    alt.Chart(series(EMA10_I, EMA10_V)).mark_line(color="#2F7A32", strokeWidth=2.6,
                                                  strokeDash=[2.5, 3]).encode(
        x=XA(), y=PY("v:Q")),
    alt.Chart(df).mark_rule(strokeWidth=1).encode(
        x=XA(), y=PY("high:Q"), y2="btop:Q", color=alt.Color("col:N", scale=None)),
    alt.Chart(df).mark_rule(strokeWidth=1).encode(
        x=XA(), y=PY("bbot:Q"), y2="low:Q", color=alt.Color("col:N", scale=None)),
    alt.Chart(hollow).mark_bar(size=4, fillOpacity=0, strokeWidth=1).encode(
        x=XA(), y=PY("open:Q"), y2="close:Q", stroke=alt.Stroke("col:N", scale=None)),
    alt.Chart(filled).mark_bar(size=4, strokeWidth=1).encode(
        x=XA(), y=PY("close:Q"), y2="open:Q", fill=alt.Fill("col:N", scale=None),
        stroke=alt.Stroke("col:N", scale=None)),
    alt.Chart(lab_up).mark_point(shape=ABOVE_PATH, size=400, filled=True, fill="white",
                                 opacity=1, stroke="#A0968C", strokeWidth=1).encode(
        x=XA(), y=PY("p:Q")),
    alt.Chart(lab_up).mark_text(dy=-11.5, fontSize=10, font=FONT, color="#111").encode(
        x=XA(), y=PY("p:Q"), text="t:N"),
    alt.Chart(lab_dn).mark_point(shape=BELOW_PATH, size=400, filled=True, fill="white",
                                 opacity=1, stroke="#A0968C", strokeWidth=1).encode(
        x=XA(), y=PY("p:Q")),
    alt.Chart(lab_dn).mark_text(dy=11.5, fontSize=10, font=FONT, color="#111").encode(
        x=XA(), y=PY("p:Q"), text="t:N"),
    alt.Chart(note_box).mark_rect(fill="#8C8C8C", opacity=0.5, xOffset=3, yOffset=3).encode(
        x=XA("x0:Q"), x2="x1:Q", y=PY("p0:Q"), y2="p1:Q"),
    alt.Chart(note_box).mark_rect(fill="white", stroke="#8A8A8A", strokeWidth=1).encode(
        x=XA("x0:Q"), x2="x1:Q", y=PY("p0:Q"), y2="p1:Q"),
    alt.Chart(ptr_df).mark_area(color="white", opacity=1).encode(
        x=XA(), y=PY("top:Q"), y2="bot:Q"),
    alt.Chart(edge_df).mark_line(color="#8A8A8A", strokeWidth=1).encode(
        x=XA(), y=PY("p:Q"), detail="s:N"),
    alt.Chart(note_pos).mark_text(text=NOTE_LINES, align="left", baseline="top", lineHeight=16,
                                  font=FONT, fontSize=12.4, fontWeight="bold",
                                  color="#1414EE").encode(x=XA(), y=PY("p:Q")),
    label(14, 8, "$INDU (Daily) 23138.82", size=8.6, color="#111"),
    label(2, 20, "\u25ac", size=7, color="#2B3A8F"),
    label(14, 20, "EMA(20) 23762.19", size=8.6, color="#2B3A8F"),
    label(2, 31, "\u25ac", size=7, color="#D6283C"),
    label(14, 31, "EMA(50) 24547.75", size=8.6, color="#D6283C"),
    label(2, 42, "\u25ac", size=7, color="#EE22E6"),
    label(14, 42, "MA(200) 25007.47", size=8.6, color="#EE22E6"),
    label(2, 52, "- -", size=8.6, weight="bold", color="#2F7A32"),
    label(14, 52, "EMA(10) 23202.68", size=8.6, color="#2F7A32"),
    label(14, 63, "BB(10,1.9) 21778.88 - 23240.46 - 24702.05", size=8.6, color="#8A8F88"),
    label(14, 74, "Volume 394,501,792", size=8.6, color="#444"),
]
price = alt.layer(
    gradient_bg(H_PRICE, [(0, "#FAF4DA"), (0.55, "#F0E1BA"), (1, "#DCBC8E")]),
    vgrid(XA, 0.3),
    vol,
    alt.layer(*price_layers),
).resolve_scale(y="independent").properties(width=W, height=H_PRICE)

gap = alt.Chart(ONE).mark_text(text=" ").encode(x=alt.value(0), y=alt.value(0)).properties(
    width=W, height=H_GAP, view=alt.ViewBackground(stroke="transparent"))

# ------------------------------------------------------------------ MACD
MACD_TICKS = list(range(-700, 201, 100))
YD = make_y(alt.Scale(domain=[-745.6, 291.1], nice=False, zero=False), y_axis(MACD_TICKS))
macd = alt.layer(
    gradient_bg(H_MACD, [(0, "#DFC396"), (1, "#CFA674")]),
    vgrid(XA),
    hgrid(MACD_TICKS, YD, GRIDC, 0.22),
    alt.Chart(pd.DataFrame({"i": list(range(n)), "h": HIST})).mark_bar(
        size=4, fill="#4B97C6", stroke="#2E6F9A", strokeWidth=0.8).encode(
        x=XA(), y=YD("h:Q"), y2=alt.datum(0)),
    alt.Chart(series(SIG_I, SIG_V)).mark_line(color="#F01010", strokeWidth=1.1).encode(
        x=XA(), y=YD("v:Q")),
    alt.Chart(series(MACD_I, MACD_V)).mark_line(color="#111", strokeWidth=2).encode(
        x=XA(), y=YD("v:Q")),
    label(2, 6, "\u25ac", size=8, color="#111"),
    label(15, 6, "MACD(12,26,9) -657.508,", font=MONO, size=10, color="#111"),
    label(162, 6, "-520.413,", font=MONO, size=10, color="#F01010"),
    label(222, 6, "-137.095", font=MONO, size=10, color="#3A8FC0"),
).properties(width=W, height=H_MACD)

chart = alt.vconcat(head, mfi, sto, price, gap, macd, spacing=0, padding=0,
                    bounds="flush").configure_view(
    stroke="#A38D74", strokeWidth=1).configure(font=FONT)

chart.save("out.html", embed_options={"renderer": "svg", "actions": False})
